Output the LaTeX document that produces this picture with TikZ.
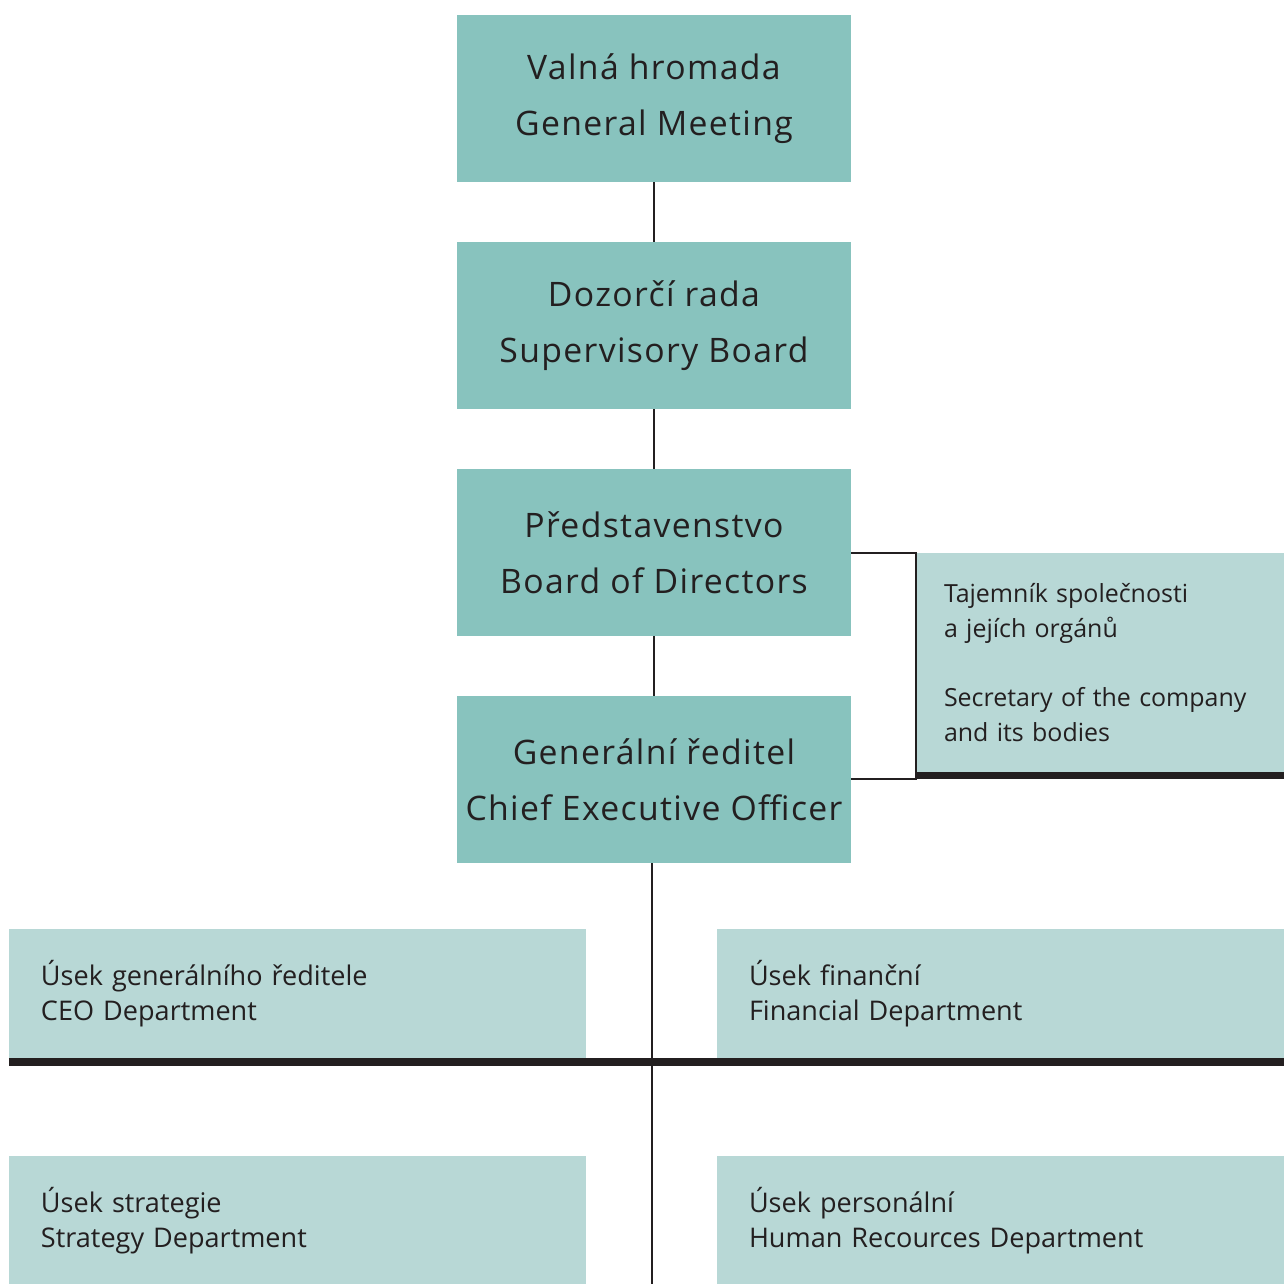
\documentclass[tikz,border=0pt]{standalone}
\usepackage{fontspec}
\setmainfont{Open Sans}
\newfontfamily\spacedfont[LetterSpace=4]{Open Sans}
\usepackage{tikz}
\usetikzlibrary{positioning}
\usetikzlibrary{calc}

\definecolor{bodyteal}{HTML}{88C3BE}
\definecolor{deptteal}{HTML}{B8D8D6}
\definecolor{inkgray}{HTML}{231F20}

\tikzset{
	body/.style={fill=bodyteal, text=inkgray, minimum width=3.94cm, minimum height=1.67cm,
		inner sep=0pt, outer sep=0pt, align=center, font=\spacedfont\fontsize{9.6}{15.9}\selectfont},
	dept/.style={fill=deptteal, text=inkgray, anchor=north west, minimum height=1.29cm,
		inner xsep=0.32cm, inner ysep=0pt, outer sep=0pt, align=left, font=\fontsize{7.7}{10}\selectfont},
	link/.style={draw=inkgray, line width=0.45pt},
	bar/.style={draw=inkgray, line width=0.08cm}
}

\begin{document}
\begin{tikzpicture}
	\useasboundingbox (0,0) rectangle (12.84,-12.84);

	% governing bodies
	\node[body] (gm) at (6.54,-0.985) {Valná hromada\\General Meeting};
	\node[body] (sb) [below=0.6cm of gm] {Dozorčí rada\\Supervisory Board};
	\node[body] (bd) [below=0.6cm of sb] {Představenstvo\\Board of Directors};
	\node[body] (ceo) [below=0.6cm of bd] {Generální ředitel\\Chief Executive Officer};

	% secretary
	\node[dept, minimum height=2.19cm, inner xsep=0.28cm, text width=3.12cm,
		font=\fontsize{7.1}{10}\selectfont] (sec) at (9.16,-5.53)
		{Tajemník společnosti\\a jejích orgánů\\[0.34cm]Secretary of the company\\and its bodies};
	\coordinate (secfoot) at ($(sec.south west)+(0,-0.07)$);
	\draw[bar, line width=0.07cm] ($(sec.south west)+(0,-0.035)$) -- ($(sec.south east)+(0,-0.035)$);

	% departments
	\node[dept, text width=5.13cm] (ceod) at (0.09,-9.29) {Úsek generálního ředitele\\CEO Department};
	\node[dept, text width=5.03cm] (fin) at (7.17,-9.29) {Úsek finanční\\Financial Department};
	\node[dept, text width=5.13cm] (strat) at (0.09,-11.56) {Úsek strategie\\Strategy Department};
	\node[dept, text width=5.03cm] (hr) at (7.17,-11.56) {Úsek personální\\Human Recources Department};
	\draw[bar] ($(ceod.south west)+(0,-0.04)$) -- ($(fin.south east)+(0,-0.04)$);
	\coordinate (trunkend) at (6.52,-12.84);

	\path[link] (gm) edge (sb);
	\path[link] (sb) edge (bd);
	\path[link] (bd) edge (ceo);
	\draw[link] (ceo.south -| trunkend) -- (trunkend);
	\draw[link] (bd.east |- sec.north) -- (sec.north west) -- (secfoot) -- (secfoot -| ceo.east);
\end{tikzpicture}
\end{document}
